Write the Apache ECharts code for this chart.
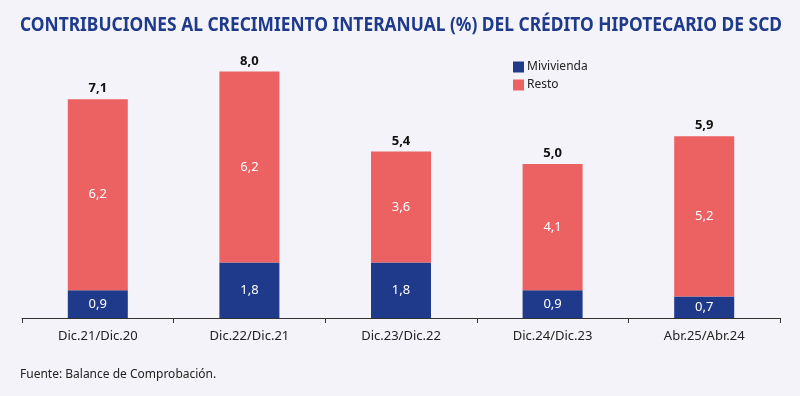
<!DOCTYPE html>
<html>
<head>
<meta charset="utf-8">
<script src="https://cdn.jsdelivr.net/npm/echarts@6/dist/echarts.min.js"></script>
<style>
  html, body { margin: 0; padding: 0; background: #f3f3f9; }
  #chart { width: 800px; height: 396px; }
</style>
</head>
<body>
<div id="chart"></div>
<script>
  var categories = ['Dic.21/Dic.20', 'Dic.22/Dic.21', 'Dic.23/Dic.22', 'Dic.24/Dic.23', 'Abr.25/Abr.24'];
  var mivivienda = [0.9, 1.8, 1.8, 0.9, 0.7];
  var resto = [6.2, 6.2, 3.6, 4.1, 5.2];
  var totales = [7.1, 8.0, 5.4, 5.0, 5.9];

  var titulo = 'CONTRIBUCIONES AL CRECIMIENTO INTERANUAL (%) DEL CRÉDITO HIPOTECARIO DE SCD';

  function fmt(v) { return v.toFixed(1).replace('.', ','); }

  // ancho del titulo para comprimirlo como en la fuente condensada del original
  var titleFont = 'bold 19px "Noto Sans"';
  var ctx = document.createElement('canvas').getContext('2d');
  ctx.font = titleFont;
  var titleScale = 762 / ctx.measureText(titulo).width;

  var myChart = echarts.init(document.getElementById('chart'));
  var option = {
    backgroundColor: '#f3f3f9',
    textStyle: { fontFamily: 'Noto Sans' },
    legend: {
      orient: 'vertical',
      left: 508,
      top: 56,
      icon: 'rect',
      itemWidth: 11,
      itemHeight: 11,
      itemGap: 6,
      data: ['Mivivienda', 'Resto'],
      textStyle: { fontSize: 12, color: '#222', padding: [0, 0, 0, -2] }
    },
    grid: { left: 22, right: 20, top: 56, bottom: 78 },
    xAxis: {
      type: 'category',
      data: categories,
      axisLine: { lineStyle: { color: '#333', width: 1 } },
      axisTick: { show: true, length: 5, lineStyle: { color: '#333' } },
      axisLabel: { fontSize: 13, color: '#222', margin: 12 }
    },
    yAxis: {
      type: 'value',
      min: 0,
      max: 8.5,
      show: false,
      splitLine: { show: false }
    },
    series: [
      {
        name: 'Mivivienda',
        type: 'bar',
        stack: 'total',
        barWidth: 60,
        data: mivivienda,
        itemStyle: { color: '#1f3a8a' },
        label: { show: true, position: 'inside', color: '#fff', fontSize: 13, formatter: function (p) { return fmt(p.value); } }
      },
      {
        name: 'Resto',
        type: 'bar',
        stack: 'total',
        barWidth: 60,
        data: resto,
        itemStyle: { color: '#ec6262' },
        label: { show: true, position: 'inside', color: '#fff', fontSize: 13, formatter: function (p) { return fmt(p.value); } }
      },
      {
        name: 'Total',
        type: 'bar',
        stack: 'total',
        barWidth: 60,
        data: totales.map(function () { return 0; }),
        itemStyle: { color: 'transparent' },
        label: {
          show: true,
          position: 'top',
          distance: 4,
          color: '#111',
          fontWeight: 'bold',
          fontSize: 13,
          formatter: function (p) { return fmt(totales[p.dataIndex]); }
        }
      }
    ],
    graphic: [
      {
        type: 'text',
        x: 20,
        y: 16,
        scaleX: titleScale,
        style: { text: titulo, font: titleFont, fill: '#1f3a8a' }
      },
      {
        type: 'text',
        left: 20,
        top: 369,
        style: { text: 'Fuente: Balance de Comprobación.', fontSize: 12, fill: '#222', fontFamily: 'Noto Sans' }
      }
    ]
  };
  myChart.setOption(option);
</script>
</body>
</html>
